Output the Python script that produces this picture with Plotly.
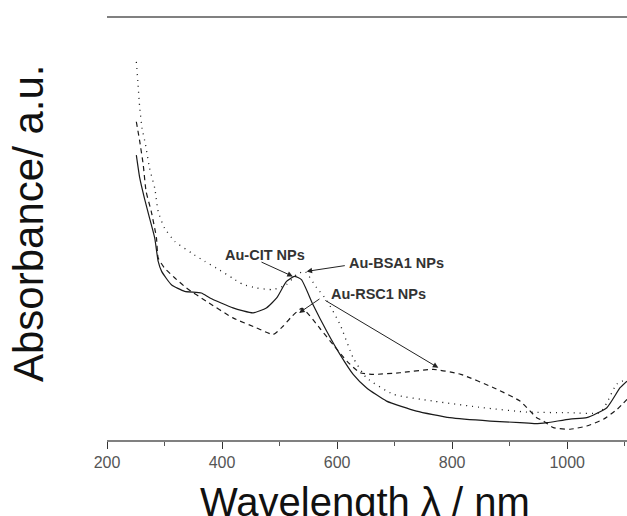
import plotly.graph_objects as go

# ---- data (wavelength nm, absorbance a.u.) ----
cit_wl = [251, 257, 265, 274, 283, 289, 295, 312, 335, 364, 379, 419, 454, 477, 495, 512,
          526, 538, 558, 582, 605, 628, 651, 686, 738, 796, 866, 918, 945, 965, 1005, 1034,
          1069, 1092, 1104]
cit_abs = [1.428, 1.312, 1.212, 1.112, 1.012, 0.895, 0.845, 0.778, 0.745, 0.737, 0.712,
           0.662, 0.637, 0.662, 0.712, 0.795, 0.820, 0.804, 0.679, 0.545, 0.429, 0.329,
           0.262, 0.195, 0.145, 0.112, 0.095, 0.087, 0.082, 0.087, 0.105, 0.112, 0.162,
           0.262, 0.295]

bsa_wl = [251, 254, 257, 261, 267, 274, 283, 289, 300, 318, 347, 370, 390, 419, 436, 460,
          489, 512, 530, 544, 564, 582, 605, 628, 651, 698, 767, 854, 930, 1000, 1057,
          1069, 1086, 1104]
bsa_abs = [1.895, 1.779, 1.662, 1.562, 1.479, 1.362, 1.262, 1.145, 1.062, 0.995, 0.937,
           0.895, 0.862, 0.81, 0.78, 0.762, 0.754, 0.779, 0.83, 0.845, 0.765, 0.70, 0.58,
           0.412, 0.312, 0.229, 0.195, 0.162, 0.140, 0.137, 0.137, 0.187, 0.280, 0.305]

rsc_wl = [251, 257, 263, 268, 277, 286, 289, 300, 318, 338, 373, 419, 460, 489, 506, 520,
          539, 570, 593, 617, 640, 663, 709, 767, 815, 872, 918, 947, 959, 976, 1005, 1034,
          1063, 1087, 1104]
rsc_abs = [1.595, 1.495, 1.379, 1.245, 1.145, 1.012, 0.912, 0.862, 0.812, 0.762, 0.695,
           0.612, 0.562, 0.529, 0.570, 0.615, 0.660, 0.560, 0.478, 0.395, 0.337, 0.329,
           0.337, 0.354, 0.329, 0.262, 0.195, 0.112, 0.095, 0.062, 0.054, 0.070, 0.104,
           0.154, 0.204]

x_tickvals = [200, 400, 600, 800, 1000]
x_ticktext = ["200", "400", "600", "800", "1000"]

# labels: text, text position (wl, abs)
label_text = ["Au-CIT NPs", "Au-BSA1 NPs", "Au-RSC1 NPs"]
label_wl = [474, 704, 672]
label_abs = [0.929, 0.889, 0.730]

# arrows: tail (wl, abs) -> head (wl, abs)
arrow_tail_wl = [466, 616, 572, 577]
arrow_tail_abs = [0.895, 0.875, 0.712, 0.704]
arrow_head_wl = [523, 547, 534, 776]
arrow_head_abs = [0.820, 0.845, 0.637, 0.362]

FONT = "Liberation Sans, Arial, sans-serif"
INK = "#1a1a1a"

fig = go.Figure()
fig.add_trace(go.Scatter(x=cit_wl, y=cit_abs, mode="lines", name="Au-CIT NPs",
                         line=dict(color=INK, width=1.2, shape="spline", smoothing=0.5)))
fig.add_trace(go.Scatter(x=bsa_wl, y=bsa_abs, mode="lines", name="Au-BSA1 NPs",
                         line=dict(color=INK, width=1.3, dash="1px,5px", shape="spline", smoothing=0.5)))
fig.add_trace(go.Scatter(x=rsc_wl, y=rsc_abs, mode="lines", name="Au-RSC1 NPs",
                         line=dict(color=INK, width=1.2, dash="5px,4px", shape="spline", smoothing=0.5)))

annotations = []
for t, xw, ya in zip(label_text, label_wl, label_abs):
    annotations.append(dict(x=xw, y=ya, xref="x", yref="y", text="<b>" + t + "</b>",
                            showarrow=False, font=dict(family=FONT, size=14.5, color="#333333")))
for tx, ty, hx, hy in zip(arrow_tail_wl, arrow_tail_abs, arrow_head_wl, arrow_head_abs):
    annotations.append(dict(x=hx, y=hy, xref="x", yref="y", ax=tx, ay=ty, axref="x", ayref="y",
                            text="", showarrow=True, arrowhead=2, arrowsize=1.1, arrowwidth=1,
                            arrowcolor="#222222"))
annotations.append(dict(x=-0.2, y=0.513, xref="paper", yref="paper", text="Absorbance/ a.u.",
                        textangle=-90, showarrow=False,
                        font=dict(family=FONT, size=42, color="#111111")))
annotations.append(dict(x=0.496, y=-0.146, xref="paper", yref="paper", text="Wavelength λ / nm",
                        showarrow=False, yanchor="middle",
                        font=dict(family=FONT, size=40, color="#111111")))

fig.update_layout(
    width=627, height=516,
    margin=dict(l=107, r=0, t=18, b=76),
    paper_bgcolor="white", plot_bgcolor="white",
    showlegend=False,
    annotations=annotations,
    xaxis=dict(range=[200, 1104], tickvals=x_tickvals, ticktext=x_ticktext,
               showline=True, linecolor="#808080", linewidth=1.5, mirror=True,
               ticks="outside", ticklen=7, tickwidth=1, tickcolor="#333333",
               minor=dict(dtick=100, ticks="outside", ticklen=4, tickcolor="#555555", tickwidth=1),
               showgrid=False, zeroline=False,
               tickfont=dict(family=FONT, size=16, color="#555555")),
    yaxis=dict(range=[0, 2.115], visible=False),
)

fig.write_html("out.html", config={"displayModeBar": False},
               post_script="document.body.style.margin='0px';document.body.style.overflow='hidden';")
